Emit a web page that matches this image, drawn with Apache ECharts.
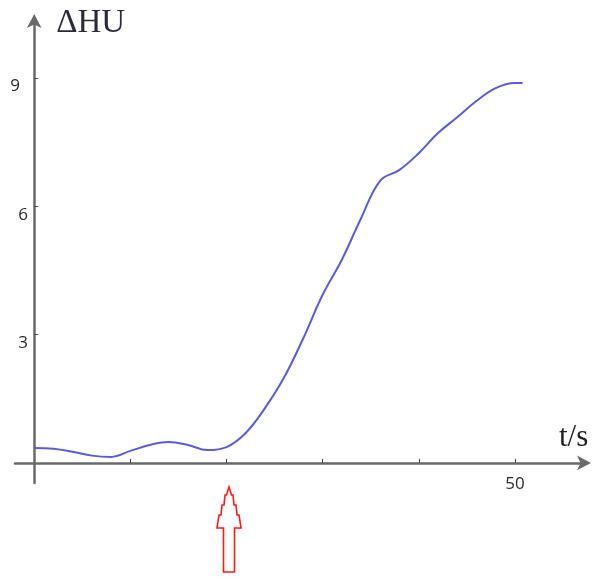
<!DOCTYPE html>
<html>
<head>
<meta charset="utf-8">
<title>ΔHU</title>
<script src="https://cdn.jsdelivr.net/npm/echarts@6/dist/echarts.min.js"></script>
<style>
  html, body { margin: 0; padding: 0; background: #fff; }
  #chart { width: 593px; height: 577px; }
</style>
</head>
<body>
<div id="chart"></div>
<script>
// time (s) and ΔHU values
var times = [0, 2, 4, 6, 8, 10, 12, 14, 16, 18, 20, 22, 24, 26, 28, 30, 32, 34, 36, 38, 40, 42, 44, 46, 48, 50, 50.8];
var dhu = [0.35, 0.33, 0.26, 0.17, 0.14, 0.28, 0.42, 0.49, 0.42, 0.3, 0.37, 0.7, 1.28, 2.0, 2.92, 3.93, 4.75, 5.72, 6.6, 6.85, 7.24, 7.71, 8.08, 8.46, 8.76, 8.88, 8.88];
var xTicks = [10, 20, 30, 40, 50];
var xLabels = [50];
var yTicks = [3, 6, 9];

var axisColor = '#6a6a6a';
var serif = '"Liberation Serif", "DejaVu Serif", serif';
var sans = '"Open Sans", sans-serif';

var chart = echarts.init(document.getElementById('chart'));

chart.setOption({
  animation: false,
  grid: { left: 15, right: 6, top: 18, bottom: 94 },
  xAxis: {
    type: 'value',
    min: -2,
    max: 57.5,
    name: 't/s',
    nameLocation: 'end',
    nameGap: -28,
    nameTextStyle: {
      fontFamily: serif,
      fontSize: 31,
      color: '#222',
      align: 'left',
      verticalAlign: 'bottom',
      padding: [0, 0, 10, 0]
    },
    axisLine: {
      onZero: true,
      symbol: ['none', 'arrow'],
      symbolSize: [11, 14],
      symbolOffset: [0, 4],
      lineStyle: { color: axisColor, width: 2.5 }
    },
    axisTick: {
      show: true,
      inside: true,
      length: 4,
      customValues: xTicks,
      lineStyle: { color: '#444', width: 1 }
    },
    axisLabel: {
      customValues: xLabels,
      margin: -7,
      fontFamily: sans,
      fontSize: 17,
      color: '#2a2a2a'
    },
    splitLine: { show: false }
  },
  yAxis: {
    type: 'value',
    min: -0.47,
    max: 10.4,
    name: 'ΔHU',
    nameLocation: 'end',
    nameGap: -5,
    nameTextStyle: {
      fontFamily: serif,
      fontSize: 33,
      color: '#2a2a3a',
      align: 'left',
      verticalAlign: 'middle',
      padding: [0, 0, 0, 22]
    },
    axisLine: {
      onZero: true,
      symbol: ['none', 'arrow'],
      symbolSize: [11, 14],
      symbolOffset: [0, 4],
      lineStyle: { color: axisColor, width: 2.5 }
    },
    axisTick: {
      show: true,
      inside: true,
      length: 4,
      customValues: yTicks,
      lineStyle: { color: '#444', width: 1 }
    },
    axisLabel: {
      customValues: yTicks,
      margin: -13,
      verticalAlign: 'top',
      fontFamily: sans,
      fontSize: 17,
      color: '#2a2a2a',
      formatter: function (v) {
        return v === 9 ? '{far|' + v + '}' : String(v);
      },
      rich: {
        far: { fontFamily: sans, fontSize: 17, color: '#2a2a2a', padding: [0, 8, 0, 0] }
      }
    },
    splitLine: { show: false }
  },
  series: [{
    type: 'line',
    smooth: 0.4,
    showSymbol: false,
    lineStyle: { color: '#5b5be0', width: 2 },
    data: times.map(function (t, i) { return [t, dhu[i]]; })
  }],
  graphic: [{
    // hollow red marker arrow under the 20 s tick
    type: 'polygon',
    shape: {
      points: [
        [229, 487], [231.5, 495], [233, 495], [234, 505], [236, 505], [237, 515],
        [239, 515], [241, 528], [234.5, 528], [234.5, 572], [223.5, 572], [223.5, 528],
        [217, 528], [219, 515], [221, 515], [222, 505], [224, 505], [225, 495], [226.5, 495]
      ]
    },
    style: { fill: 'none', stroke: '#ff1a1a', lineWidth: 1.6 }
  }]
});
</script>
</body>
</html>
